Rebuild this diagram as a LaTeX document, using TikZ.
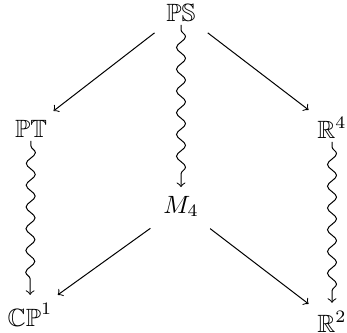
\documentclass[tikz,border=0pt]{standalone}
\usepackage{amssymb}
\usetikzlibrary{decorations.pathmorphing}
\begin{document}
\begin{tikzpicture}[x=0.4pt,y=-0.4pt,
  lbl/.style={inner sep=3.33pt, anchor=base},
  arr/.style={->, >=to, line width=0.4pt, shorten <=2pt},
  squig/.style={->, >=to, line width=0.4pt, shorten <=2pt, decorate,
    decoration={snake, amplitude=1.8pt, segment length=8.7pt, post length=2.5pt}}]
\useasboundingbox (0,0) rectangle (347,333);
\node[lbl] (PS) at (181,21) {$\mathbb{PS}$};
\node[lbl] (PT) at (31,137) {$\mathbb{PT}$};
\node[lbl] (R4) at (332,138) {$\mathbb{R}^4$};
\node[lbl] (M4) at (181,213) {$M_4$};
\node[lbl] (CP) at (30,326) {$\mathbb{CP}^1$};
\node[lbl] (R2) at (332,332) {$\mathbb{R}^2$};
\draw[arr] (PS) -- (PT);
\draw[arr] (PS) -- (R4);
\draw[squig] (PS) -- (M4);
\draw[squig] (PT) -- (CP);
\draw[squig] (R4) -- (R2);
\draw[arr] (M4) -- (CP);
\draw[arr] (M4) -- (R2);
\end{tikzpicture}
\end{document}
